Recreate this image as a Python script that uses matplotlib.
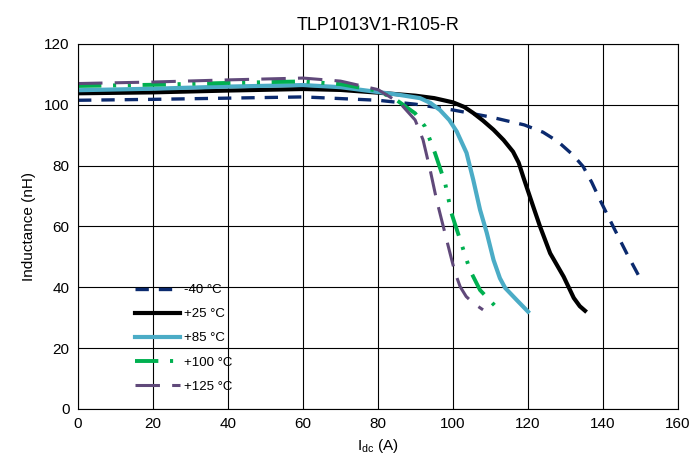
import matplotlib.pyplot as plt

plt.rcParams['font.family'] = ['Liberation Sans', 'DejaVu Sans']

# -40 C
i_m40 = [0, 20, 40, 60, 80, 90, 100, 110, 119, 124, 128, 132, 134.7, 137, 139.2, 142.7, 146.3, 150]
l_m40 = [101.5, 101.8, 102.2, 102.6, 101.5, 100.2, 98.3, 96.0, 93.4, 91.0, 87.9, 83.5, 79.7, 74.5, 68.7, 60.0, 51.2, 42.7]
# +25 C
i_25 = [0, 20, 40, 60, 70, 80, 90, 95, 100, 103, 105.4, 108, 110.8, 113.5, 116, 117.5, 118.7, 121.4, 123.2, 125.9, 129.5, 132.2, 133.8, 135.2]
l_25 = [103.8, 104.1, 104.7, 105.2, 104.9, 104.0, 103.0, 102.2, 100.8, 99.3, 97.3, 94.8, 91.8, 88.4, 84.6, 81.0, 76.4, 66.5, 60.0, 51.2, 43.5, 36.5, 33.8, 32.3]
# +85 C
i_85 = [0, 20, 40, 60, 70, 80, 85, 91.2, 94, 96.5, 99, 101, 103.6, 105.4, 107.2, 109, 110.8, 112.5, 113.9, 117, 120]
l_85 = [104.8, 105.3, 106.0, 106.5, 105.8, 104.2, 103.4, 102.2, 100.6, 98.3, 95.0, 91.2, 84.2, 75.3, 65.5, 57.9, 49.0, 43.0, 39.8, 35.8, 32.0]
# +100 C
i_100 = [0, 20, 40, 60, 70, 80, 85, 89.9, 92.5, 95.2, 97.9, 99.6, 101.9, 104.5, 107.2, 111.2]
l_100 = [106.2, 106.6, 107.2, 107.7, 106.8, 104.6, 101.5, 97.2, 92.9, 84.1, 74.2, 64.3, 55.6, 45.7, 39.1, 33.9]
# +125 C
i_125 = [0, 20, 40, 60, 70, 80, 85.9, 89.9, 92, 93.9, 95.6, 97.4, 99.2, 100.5, 101.9, 103.5, 105.4, 108]
l_125 = [107.0, 107.5, 108.2, 108.8, 107.8, 105.0, 100.5, 95.0, 88.5, 78.6, 68.8, 60.0, 51.2, 45.0, 40.2, 37.0, 34.8, 32.6]

labels = ['-40 °C', '+25 °C', '+85 °C', '+100 °C', '+125 °C']

fig = plt.figure(figsize=(6.93, 4.70), dpi=100)
ax = fig.add_axes([0.1126, 0.1298, 0.8658, 0.7766])

ax.plot(i_m40, l_m40, color='#0b2a6e', lw=2.4, dashes=(4, 3), label=labels[0])
ax.plot(i_25, l_25, color='black', lw=3, label=labels[1])
ax.plot(i_85, l_85, color='#4bacc6', lw=3, label=labels[2])
ax.plot(i_100, l_100, color='#00b050', lw=2.8, dashes=(6, 3, 0.8, 3, 0.8, 3), label=labels[3])
ax.plot(i_125, l_125, color='#60497a', lw=2.2, dashes=(8, 4), label=labels[4])

ax.set_xlim(0, 160)
ax.set_ylim(0, 120)
ax.set_xticks(range(0, 161, 20))
ax.set_yticks(range(0, 121, 20))
ax.grid(True, color='black', lw=0.8)
ax.tick_params(length=0, labelsize=11, pad=6)
for s in ax.spines.values():
    s.set_linewidth(0.8)

ax.set_xlabel('I$_\\mathregular{dc}$ (A)', fontsize=11, labelpad=4)
ax.set_ylabel('Inductance (nH)', fontsize=11, labelpad=6)
ax.set_title('TLP1013V1-R105-R', fontsize=13, pad=10)

ax.legend(loc='upper left', bbox_to_anchor=(0.075, 0.375), frameon=False,
          fontsize=9.5, handlelength=3.4, labelspacing=0.9, handletextpad=0.3)

fig.savefig('out.png', dpi=100)
